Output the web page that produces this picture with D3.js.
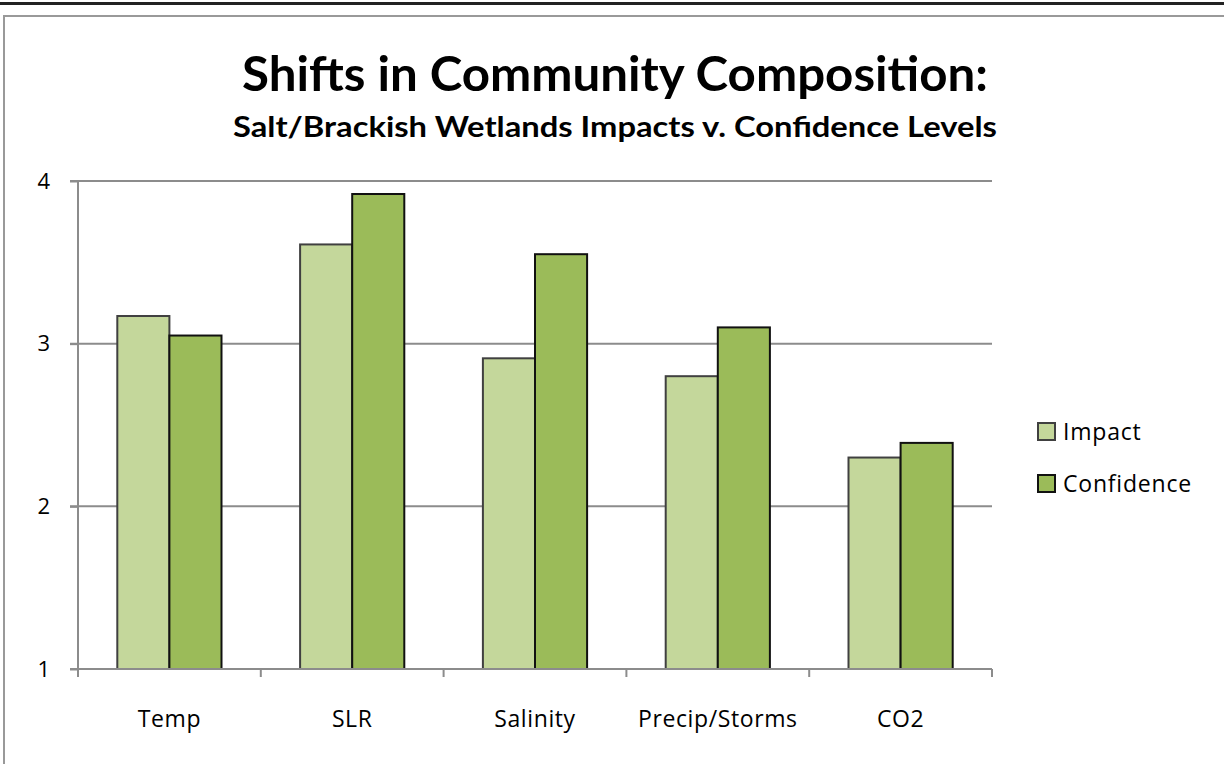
<!DOCTYPE html>
<html lang="en">
<head>
<meta charset="UTF-8">
<title>Shifts in Community Composition</title>
<script src="https://d3js.org/d3.v7.min.js"></script>
<style>
body { margin: 0; background: #fff; }
svg { display: block; font-family: Lato, "Open Sans", sans-serif; }
.grid line { stroke: #8c8c8c; stroke-width: 2; }
.axis path, .axis line { stroke: #8c8c8c; stroke-width: 2; fill: none; }
.axis text { font-size: 22px; fill: #000; font-family: "Open Sans", sans-serif; }
.axis text.cat { font-size: 23px; letter-spacing: 0.6px; }
</style>
</head>
<body>
<script>
var width = 1224, height = 764;

// data
var categories = ['Temp', 'SLR', 'Salinity', 'Precip/Storms', 'CO2'];
var impact = [3.17, 3.61, 2.91, 2.80, 2.30];
var confidence = [3.05, 3.92, 3.55, 3.10, 2.39];
var seriesNames = ['Impact', 'Confidence'];
var yTicks = [1, 2, 3, 4];

var colors = ['#c4d79b', '#9bbb59'];
var strokes = ['#404040', '#111'];

var plot = {left: 78, right: 992, top: 181, bottom: 669};

var svg = d3.select('body').append('svg')
  .attr('width', width).attr('height', height);

// page frame
svg.append('rect').attr('x', 0).attr('y', 2).attr('width', width).attr('height', 3).attr('fill', '#222');
svg.append('rect').attr('x', 4).attr('y', 16).attr('width', width).attr('height', height)
  .attr('fill', 'none').attr('stroke', '#999').attr('stroke-width', 2);

var x0 = d3.scaleBand().domain(categories).range([plot.left, plot.right]).paddingInner(0.43).paddingOuter(0.215);
var x1 = d3.scaleBand().domain(seriesNames).range([0, x0.bandwidth()]);
var y = d3.scaleLinear().domain([1, 4]).range([plot.bottom, plot.top]);

// gridlines
svg.append('g').attr('class', 'grid')
  .selectAll('line').data(yTicks.slice(1)).enter().append('line')
  .attr('x1', plot.left - 8).attr('x2', plot.right)
  .attr('y1', function(d){ return y(d); }).attr('y2', function(d){ return y(d); });

// bars
var data = categories.map(function(c, i){ return {cat: c, vals: [impact[i], confidence[i]]}; });
var groups = svg.selectAll('.grp').data(data).enter().append('g')
  .attr('class', 'grp')
  .attr('transform', function(d){ return 'translate(' + x0(d.cat) + ',0)'; });
groups.selectAll('rect').data(function(d){ return d.vals.map(function(v, j){ return {v: v, j: j}; }); })
  .enter().append('rect')
  .attr('x', function(d){ return x1(seriesNames[d.j]); })
  .attr('y', function(d){ return y(d.v); })
  .attr('width', x1.bandwidth())
  .attr('height', function(d){ return y(1) - y(d.v); })
  .attr('fill', function(d){ return colors[d.j]; })
  .attr('stroke', function(d){ return strokes[d.j]; })
  .attr('stroke-width', 2);

// y axis
var yAxis = d3.axisLeft(y).tickValues(yTicks).tickSize(8).tickPadding(20).tickFormat(d3.format('d'));
svg.append('g').attr('class', 'axis').attr('transform', 'translate(' + plot.left + ',0)').call(yAxis)
  .call(function(g){ g.select('.domain').attr('d', 'M0,' + plot.top + 'V' + plot.bottom); });

// x axis with boundary ticks
var xAxisG = svg.append('g').attr('class', 'axis');
xAxisG.append('line').attr('x1', plot.left - 8).attr('x2', plot.right).attr('y1', plot.bottom).attr('y2', plot.bottom);
var bounds = d3.range(categories.length + 1).map(function(i){ return plot.left + i * (plot.right - plot.left) / categories.length; });
xAxisG.selectAll('.bt').data(bounds).enter().append('line')
  .attr('x1', function(d){ return d; }).attr('x2', function(d){ return d; })
  .attr('y1', plot.bottom).attr('y2', plot.bottom + 8);
xAxisG.selectAll('text').data(categories).enter().append('text')
  .attr('class', 'cat')
  .attr('x', function(d){ return x0(d) + x0.bandwidth() / 2; })
  .attr('y', 727)
  .attr('text-anchor', 'middle')
  .text(function(d){ return d; });

// titles
svg.append('text').attr('x', 615).attr('y', 91).attr('text-anchor', 'middle')
  .attr('font-size', 48).attr('font-weight', 'bold')
  .attr('textLength', 746).attr('lengthAdjust', 'spacingAndGlyphs')
  .text('Shifts in Community Composition:');
svg.append('text').attr('x', 615).attr('y', 137).attr('text-anchor', 'middle')
  .attr('font-size', 28).attr('font-weight', 'bold')
  .attr('textLength', 764).attr('lengthAdjust', 'spacingAndGlyphs')
  .text('Salt/Brackish Wetlands Impacts v. Confidence Levels');

// legend
var legend = svg.selectAll('.leg').data(seriesNames).enter().append('g')
  .attr('transform', function(d, i){ return 'translate(1038,' + (423 + i * 52) + ')'; });
legend.append('rect').attr('width', 17).attr('height', 17)
  .attr('fill', function(d, i){ return colors[i]; })
  .attr('stroke', function(d, i){ return strokes[i]; }).attr('stroke-width', 2);
legend.append('text').attr('x', 25).attr('y', 17).attr('font-size', 23)
  .attr('letter-spacing', 0.8)
  .attr('font-family', '"Open Sans", sans-serif').text(function(d){ return d; });
</script>
</body>
</html>
